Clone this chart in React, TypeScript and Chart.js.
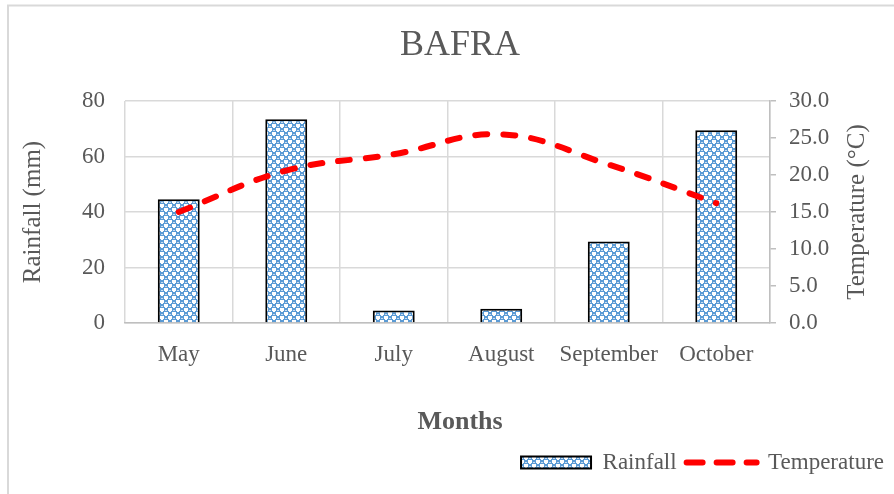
import React, { useEffect, useRef } from 'react';
import { Chart, registerables } from 'chart.js';

Chart.register(...registerables);

const chartTitle = 'BAFRA';
const xAxisTitle = 'Months';
const yAxisTitle = 'Rainfall (mm)';
const y1AxisTitle = 'Temperature (°C)';
const months = ['May', 'June', 'July', 'August', 'September', 'October'];
const rainfall = [44.6, 73.4, 4.5, 5.1, 29.4, 69.5];
const temperature = [15.0, 20.6, 22.8, 25.5, 21.4, 16.2];
const rainfallAxis = { min: 0, max: 80, step: 20 };
const temperatureAxis = { min: 0, max: 30, step: 5 };

const FONT = "'Liberation Serif', 'Times New Roman', Times, serif";
const TEXT = '#595959';
const GRID = '#d9d9d9';
const AXIS = '#bfbfbf';

function makePattern(): CanvasPattern | string {
  const c = document.createElement('canvas');
  c.width = 8;
  c.height = 8;
  const g = c.getContext('2d');
  if (!g) return '#5B9BD5';
  g.fillStyle = '#5B9BD5';
  g.fillRect(0, 0, 8, 8);
  g.fillStyle = '#ffffff';
  g.fillRect(4, 0, 4, 3);
  g.fillRect(0, 4, 4, 3);
  g.fillRect(5, 3, 2, 1);
  g.fillRect(1, 7, 2, 1);
  g.fillStyle = '#c9dcf1';
  g.fillRect(1, 2, 2, 1);
  g.fillRect(5, 6, 2, 1);
  const p = g.createPattern(c, 'repeat');
  return p || '#5B9BD5';
}

export default function App() {
  const ref = useRef<HTMLCanvasElement>(null);

  useEffect(() => {
    const canvas = ref.current;
    if (!canvas) return;
    const pattern = makePattern();

    const framePlugin = {
      id: 'frame',
      beforeDraw(chart: any) {
        const ctx = chart.ctx;
        ctx.save();
        ctx.fillStyle = '#ffffff';
        ctx.fillRect(0, 0, chart.width, chart.height);
        ctx.strokeStyle = GRID;
        ctx.lineWidth = 2;
        ctx.strokeRect(8, 5.5, 1000, 1000);
        ctx.restore();
      },
      afterDraw(chart: any) {
        const ctx = chart.ctx;
        const area = chart.chartArea;
        ctx.save();
        ctx.fillStyle = TEXT;
        ctx.textAlign = 'center';
        ctx.textBaseline = 'middle';
        ctx.font = `36px ${FONT}`;
        ctx.fillText(chartTitle, 460, 46);
        ctx.font = `bold 26px ${FONT}`;
        ctx.fillText(xAxisTitle, 460, 422);
        ctx.translate(857, (area.top + area.bottom) / 2);
        ctx.rotate(-Math.PI / 2);
        ctx.font = `25px ${FONT}`;
        ctx.fillText(y1AxisTitle, 0, 0);
        ctx.restore();
      },
    };

    const chart = new Chart(canvas, {
      type: 'bar',
      data: {
        labels: months,
        datasets: [
          {
            type: 'bar',
            label: 'Rainfall',
            data: rainfall,
            yAxisID: 'y',
            backgroundColor: pattern as any,
            borderColor: '#000000',
            borderWidth: 2,
            barPercentage: 0.39,
            categoryPercentage: 1,
            order: 1,
          },
          {
            type: 'line',
            label: 'Temperature',
            data: temperature,
            yAxisID: 'y1',
            borderColor: '#FF0000',
            backgroundColor: '#FF0000',
            borderWidth: 6,
            borderDash: [12, 16],
            borderCapStyle: 'round',
            pointRadius: 0,
            tension: 0.4,
            fill: false,
            order: 0,
          } as any,
        ],
      },
      options: {
        responsive: false,
        animation: false,
        layout: { padding: { left: 0, right: 0, top: 101, bottom: 10 } },
        plugins: {
          tooltip: { enabled: false },
          title: { display: false },
          legend: {
            display: true,
            position: 'bottom',
            align: 'end',
            labels: {
              color: TEXT,
              font: { family: FONT, size: 23 },
              usePointStyle: true,
              pointStyleWidth: 70,
              boxHeight: 12,
              padding: 10,
              generateLabels: () => [
                {
                  text: 'Rainfall',
                  fillStyle: pattern as any,
                  strokeStyle: '#000000',
                  lineWidth: 2,
                  pointStyle: 'rect',
                  fontColor: TEXT,
                  datasetIndex: 0,
                  hidden: false,
                },
                {
                  text: 'Temperature',
                  fillStyle: '#FF0000',
                  strokeStyle: '#FF0000',
                  lineWidth: 6,
                  lineDash: [16, 14],
                  lineCap: 'round',
                  pointStyle: 'line',
                  fontColor: TEXT,
                  datasetIndex: 1,
                  hidden: false,
                } as any,
              ],
            },
          },
        },
        scales: {
          x: {
            grid: { color: GRID, lineWidth: 1.5, drawTicks: false, offset: true },
            border: { color: AXIS, width: 1.5 },
            ticks: { color: TEXT, font: { family: FONT, size: 23 }, padding: 18 },
            title: { display: false },
            afterFit: (s: any) => {
              s.height = 118;
            },
          },
          y: {
            position: 'left',
            min: rainfallAxis.min,
            max: rainfallAxis.max,
            ticks: {
              stepSize: rainfallAxis.step,
              color: TEXT,
              font: { family: FONT, size: 23 },
              padding: 20,
            },
            grid: { color: GRID, lineWidth: 1.5, drawTicks: false },
            border: { display: false },
            title: {
              display: true,
              text: yAxisTitle,
              color: TEXT,
              font: { family: FONT, size: 25 },
              padding: { top: 18, bottom: 0 },
            },
            afterFit: (s: any) => {
              s.width = 125;
            },
          },
          y1: {
            position: 'right',
            min: temperatureAxis.min,
            max: temperatureAxis.max,
            ticks: {
              stepSize: temperatureAxis.step,
              color: TEXT,
              font: { family: FONT, size: 23 },
              padding: 13,
              callback: (v: any) => Number(v).toFixed(1),
            },
            grid: {
              drawOnChartArea: false,
              color: AXIS,
              lineWidth: 1.5,
              tickLength: 6,
            },
            border: { color: AXIS, width: 1.5 },
            afterFit: (s: any) => {
              s.width = 124;
            },
          },
        },
      },
      plugins: [framePlugin],
    } as any);

    return () => chart.destroy();
  }, []);

  return (
    <canvas
      ref={ref}
      width={894}
      height={494}
      style={{ position: 'absolute', left: 0, top: 0, width: 894, height: 494 }}
    />
  );
}
